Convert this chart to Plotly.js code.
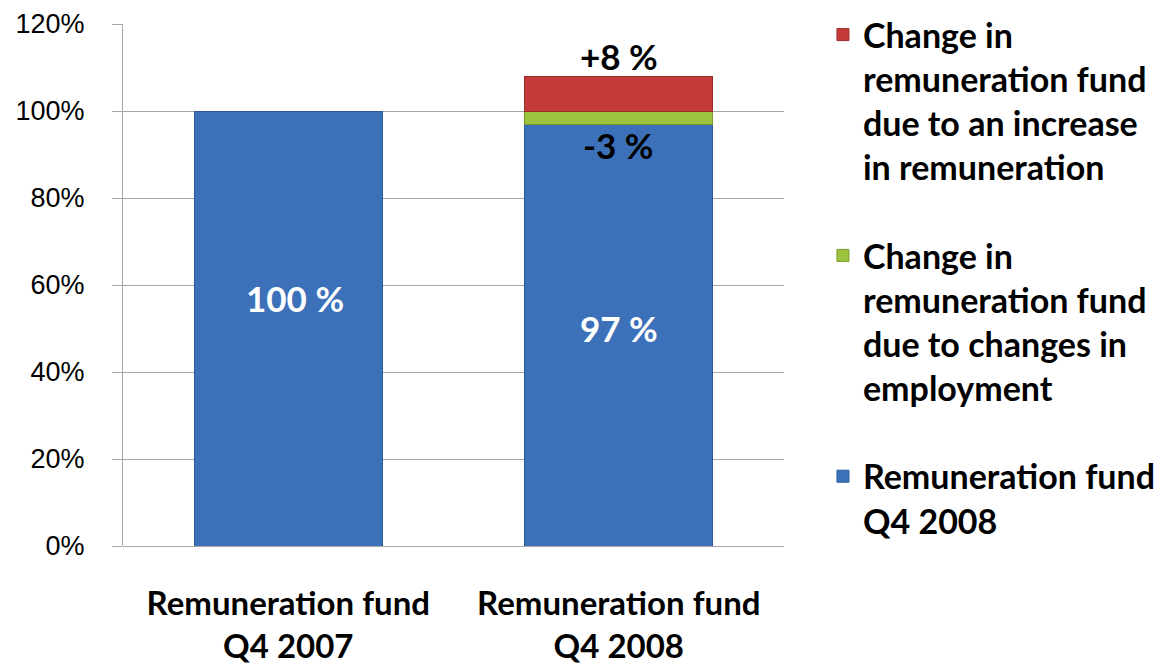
<!DOCTYPE html>
<html>
<head>
<meta charset="utf-8">
<script src="https://cdn.plot.ly/plotly-3.0.1.min.js"></script>
<style>html,body{margin:0;padding:0;background:#fff;}#chart{width:1165px;height:666px;}</style>
</head>
<body>
<div id="chart"></div>
<script>
const categories = ["Remuneration fund<br>Q4 2007", "Remuneration fund<br>Q4 2008"];
const fundValues = [100, 97];
const employmentChange = [null, 3];
const remunerationChange = [null, 8];
const seriesNames = [
  "Remuneration fund<br>Q4 2008",
  "Change in<br>remuneration fund<br>due to changes in<br>employment",
  "Change in<br>remuneration fund<br>due to an increase<br>in remuneration"
];
const labelTexts = ["100 %", "97 %", "-3 %", "+8 %"];
const yTicks = [0, 20, 40, 60, 80, 100, 120];

const FONT = "Lato, 'Open Sans', sans-serif";

const traces = [
  {type:'bar', x:categories, y:fundValues, name:seriesNames[0], legendgroup:'a', legendrank:3,
   marker:{color:'#3C71BA', line:{color:'#2c5a99', width:1}}, hoverinfo:'y'},
  {type:'bar', x:categories, y:employmentChange, name:seriesNames[1], legendgroup:'b', legendrank:2,
   marker:{color:'#9CC33E', line:{color:'#7a9a2c', width:1}}, hoverinfo:'y'},
  {type:'bar', x:categories, y:remunerationChange, name:seriesNames[2], legendgroup:'c', legendrank:1,
   marker:{color:'#C23A39', line:{color:'#9c2c2a', width:1}}, hoverinfo:'y'}
];

const lblFont = {family:FONT, size:35, color:'#000', weight:'bold'};
const annotations = [
  {x:categories[0], y:fundValues[0]*0.5, yshift:31, xshift:7, text:labelTexts[0], showarrow:false,
   font:Object.assign({}, lblFont, {color:'#fff'})},
  {x:categories[1], y:fundValues[1]*0.5, yshift:7, text:labelTexts[1], showarrow:false,
   font:Object.assign({}, lblFont, {color:'#fff'})},
  {x:categories[1], y:fundValues[1], yanchor:'top', yshift:2, text:labelTexts[2], showarrow:false, font:lblFont},
  {x:categories[1], y:fundValues[1]+employmentChange[1]+remunerationChange[1], yanchor:'bottom', yshift:-3,
   text:labelTexts[3], showarrow:false, font:lblFont}
];

const layout = {
  width:1165, height:666,
  margin:{l:123, r:381, t:24, b:120},
  barmode:'stack', bargap:0.43,
  paper_bgcolor:'#fff', plot_bgcolor:'#fff',
  showlegend:true,
  legend:{xref:'container', yref:'container', x:0.7064, y:0.991, xanchor:'left', yanchor:'top',
    maxheight:660,
    traceorder:'grouped', tracegroupgap:41, valign:'top',
    font:{family:FONT, size:34, color:'#000', weight:'bold'}},
  xaxis:{type:'category', showline:false, ticks:'', ticklabelstandoff:35,
    tickfont:{family:FONT, size:33, color:'#000', weight:'bold'}},
  yaxis:{range:[0,120], tickvals:yTicks, ticktext:yTicks.map(v=>v+'%'),
    showgrid:true, gridcolor:'#a6a6a6', gridwidth:1,
    showline:true, linecolor:'#a6a6a6', linewidth:1,
    ticks:'outside', ticklen:10, tickcolor:'#a6a6a6',
    ticklabelstandoff:22,
    zeroline:true, zerolinecolor:'#a6a6a6',
    tickfont:{family:"'Liberation Sans', Arial, sans-serif", size:27, color:'#000'}},
  annotations:annotations
};

Plotly.newPlot('chart', traces, layout, {displayModeBar:false, staticPlot:true});
</script>
</body>
</html>
